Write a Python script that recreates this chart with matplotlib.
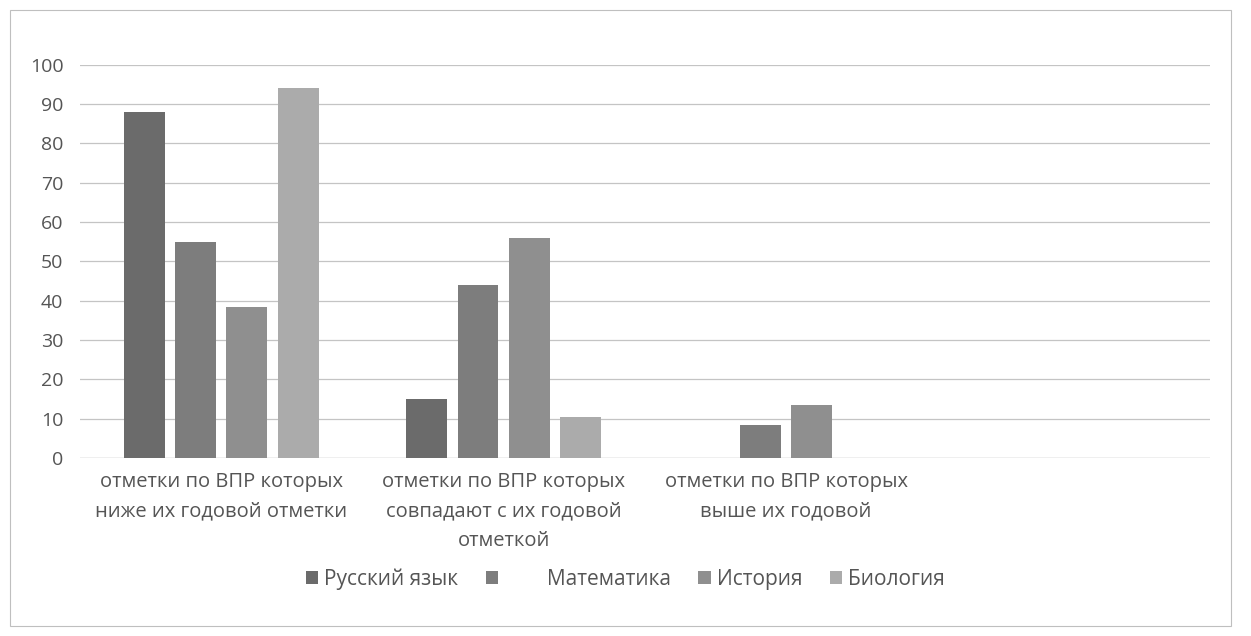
import matplotlib
matplotlib.rcParams.update({'font.size': 14})
matplotlib.rcParams['font.family'] = ['Open Sans', 'DejaVu Sans']
from matplotlib import pyplot as plt
from matplotlib.patches import Rectangle
import numpy as np

categories = ["отметки по ВПР которых\nниже их годовой отметки",
              "отметки по ВПР которых\nсовпадают с их годовой\nотметкой",
              "отметки по ВПР которых\nвыше их годовой",
              ""]
subjects = ["Русский язык", "        Математика", "История", "Биология"]
russian = [88, 15, 0, 0]
math = [55, 44, 8.5, 0]
history = [38.5, 56, 13.5, 0]
biology = [94, 10.5, 0, 0]
yticks = list(range(0, 101, 10))

colors = ['#6b6b6b', '#7d7d7d', '#8f8f8f', '#ababab']
series = [russian, math, history, biology]

fig = plt.figure(figsize=(12.51, 6.36), dpi=100)
ax = fig.add_axes([0.064, 0.28, 0.903, 0.618])

x = np.arange(len(categories))
step = 0.182
width = 0.145
for i, vals in enumerate(series):
    ax.bar(x + (i - 1.5) * step, vals, width, color=colors[i], label=subjects[i], zorder=3)

ax.set_xlim(-0.5, len(categories) - 0.5)
ax.set_ylim(0, 100)
ax.set_yticks(yticks)
ax.yaxis.grid(True, color='#c4c4c4', linewidth=0.9, zorder=0)
ax.set_xticks(x)
ax.set_xticklabels(categories, fontsize=14.5, color='#555555', linespacing=1.65)
ax.tick_params(axis='y', labelsize=14, labelcolor='#555555', length=0, pad=12)
ax.tick_params(axis='x', length=0, pad=10)
for s in ax.spines.values():
    s.set_visible(False)
ax.axhline(0, color='#bbbbbb', linewidth=0.9, zorder=2)

leg = fig.legend(loc='center', bbox_to_anchor=(0.5, 0.09), ncol=4, frameon=False,
                 fontsize=15, handlelength=0.6, handleheight=0.6, handletextpad=0.3,
                 columnspacing=1.3)
for t in leg.get_texts():
    t.set_color('#555555')

fig.patches.append(Rectangle((0.008, 0.015), 0.976, 0.97, transform=fig.transFigure,
                             fill=False, edgecolor='#bfbfbf', linewidth=0.8))

fig.savefig('out.png', dpi=100)
plt.close(fig)
